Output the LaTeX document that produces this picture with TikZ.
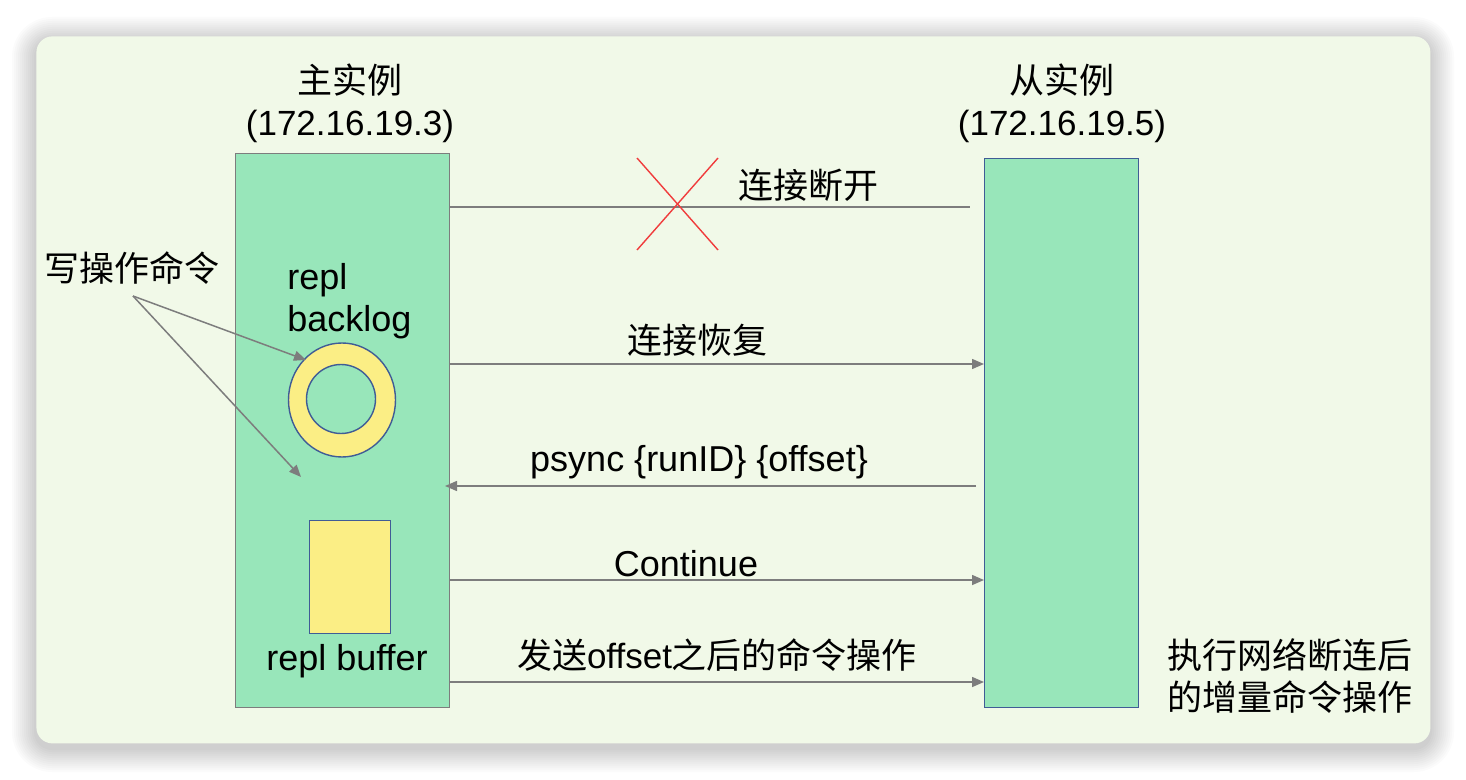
\documentclass[tikz,border=0pt]{standalone}
\usepackage{fontspec}
\setmainfont{Noto Sans CJK SC}
\newfontfamily\latinf{Liberation Sans}
\usetikzlibrary{arrows.meta,shapes.geometric}
\definecolor{cardbg}{RGB}{241,249,232}
\definecolor{boxgreen}{RGB}{152,230,186}
\definecolor{ringyellow}{RGB}{251,238,133}
\definecolor{blueedge}{RGB}{64,92,150}
\definecolor{linegray}{RGB}{125,125,125}
\definecolor{xred}{RGB}{240,60,60}
\tikzset{
  card/.style={fill=cardbg, draw=none, rounded corners=8pt},
  shadowlayer/.style={fill=black, fill opacity=0.014, draw=none},
  hostbox/.style={fill=boxgreen, line width=0.7pt},
  yellowpart/.style={fill=ringyellow, draw=blueedge, line width=0.7pt},
  msg/.style={draw=linegray, line width=0.75pt},
  msgarrow/.style={msg, -{Triangle[length=6pt,width=5pt]}},
  lbl/.style={font=\fontsize{17.5}{21}\selectfont, inner sep=0pt, text=black},
  latlbl/.style={lbl, font=\fontsize{18}{21}\selectfont\latinf},
  title/.style={lbl, align=center},
}
\begin{document}
\begin{tikzpicture}[x=0.5pt,y=-0.5pt]
\useasboundingbox (0,0) rectangle (1466,780);
\fill[white] (0,0) rectangle (1466,780);
% soft shadow
\foreach \s in {2,4,...,24}{
  \fill[shadowlayer, rounded corners={8pt+0.5*\s pt}] (36-\s,36-\s+5) rectangle (1430+\s,743+\s+5);
}
\node[card, minimum width=697pt, minimum height=353.5pt, anchor=north west] (card) at (36,36) {};

% hosts
\node[hostbox, draw=linegray, minimum width=107pt, minimum height=277pt, anchor=north west, inner sep=0pt] (master) at (235,153) {};
\node[hostbox, draw=blueedge, minimum width=77pt, minimum height=274.5pt, anchor=north west, inner sep=0pt] (slave) at (984,158) {};

\node[title] (mtitle) at (350,103) {主实例\\{\latinf(172.16.19.3)}};
\node[title] (stitle) at (1062,103) {从实例\\{\latinf(172.16.19.5)}};

% ring and buffer
\node[yellowpart, ellipse, minimum width=53.5pt, minimum height=57pt, inner sep=0pt] (ring) at (342,400) {};
\node[circle, fill=boxgreen, draw=blueedge, line width=0.7pt, minimum size=34.5pt, inner sep=0pt] (hole) at (341,399) {};
\node[yellowpart, minimum width=40.5pt, minimum height=56.5pt, anchor=north west, inner sep=0pt] (buf) at (309,520) {};

\node[latlbl, align=left, anchor=west] (backlog) at (287,301) {repl\\backlog};
\node[latlbl] (buflbl) at (347,661) {repl buffer};

% write commands
\node[lbl] (write) at (132,268) {写操作命令};
\coordinate (w0) at (133,296);
\coordinate (t1) at (306,360);
\coordinate (t2) at (301,477);
\draw[msgarrow] (w0) -- (t1);
\draw[msgarrow] (w0) -- (t2);

% messages
\coordinate (m1) at (449,207);
\coordinate (s1) at (970,207);
\draw[msg] (m1) -- (s1);
\coordinate (xa) at (637,158);
\coordinate (xb) at (718,250);
\coordinate (xc) at (718,158);
\coordinate (xd) at (637,250);
\draw[xred, line width=0.7pt] (xa) -- (xb);
\draw[xred, line width=0.7pt] (xc) -- (xd);
\node[lbl, anchor=west] (l1) at (738,185) {连接断开};

\coordinate (m2) at (449,364);
\coordinate (s2) at (984,364);
\draw[msgarrow] (m2) -- (s2);
\node[lbl] (l2) at (697,340) {连接恢复};

\coordinate (s3) at (976,486);
\coordinate (m3) at (445,486);
\draw[msgarrow] (s3) -- (m3);
\node[latlbl] (l3) at (699,462) {psync \{runID\} \{offset\}};

\coordinate (m4) at (449,580);
\coordinate (s4) at (984,580);
\draw[msgarrow] (m4) -- (s4);
\node[latlbl] (l4) at (686,564) {Continue};

\coordinate (m5) at (449,682);
\coordinate (s5) at (984,682);
\draw[msgarrow] (m5) -- (s5);
\node[lbl] (l5) at (717,655) {发送{\latinf offset}之后的命令操作};

\node[lbl, align=left, anchor=west] (note) at (1167,676) {执行网络断连后\\的增量命令操作};
\end{tikzpicture}
\end{document}
